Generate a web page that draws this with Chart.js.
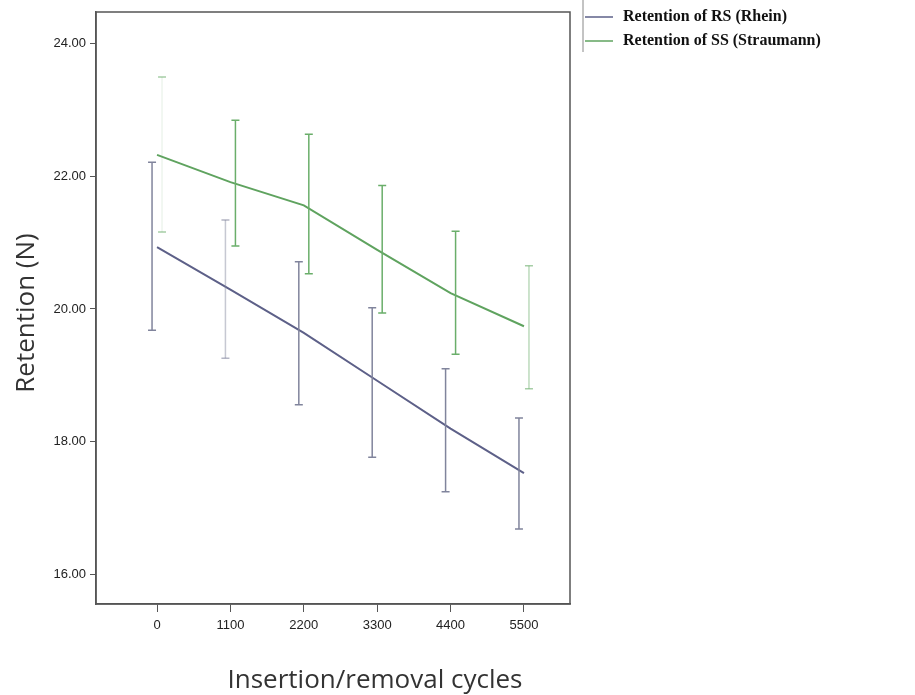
<!DOCTYPE html>
<html>
<head>
<meta charset="utf-8">
<script src="https://cdn.jsdelivr.net/npm/chart.js@4"></script>
<style>
  body { margin: 0; background: #fff; }
  #wrap { width: 915px; height: 695px; }
</style>
</head>
<body>
<div id="wrap"><canvas id="myChart"></canvas></div>
<script>
const cycles = [0, 1100, 2200, 3300, 4400, 5500];
const rsMean = [20.93, 20.29, 19.64, 18.92, 18.20, 17.53];
const rsLow  = [19.68, 19.26, 18.56, 17.77, 17.25, 16.69];
const rsHigh = [22.21, 21.34, 20.71, 20.02, 19.10, 18.36];
const ssMean = [22.32, 21.91, 21.56, 20.89, 20.24, 19.74];
const ssLow  = [21.16, 20.95, 20.53, 19.94, 19.32, 18.80];
const ssHigh = [23.49, 22.84, 22.63, 21.86, 21.17, 20.65];
const yTicks = [16, 18, 20, 22, 24];
const xTitle = 'Insertion/removal cycles';
const yTitle = 'Retention (N)';

const rsColor = "#5d6088";
const ssColor = "#5fa35f";

// error bars + frame + legend + axis titles
const extras = {
  id: 'extras',
  afterDatasetsDraw(chart) {
    const ctx = chart.ctx;
    const x = chart.scales.x, y = chart.scales.y;
    const a = chart.chartArea;
    const bars = [
      { low: rsLow, high: rsHigh, color: "#80849c", shift: -5, faint: [1] },
      { low: ssLow, high: ssHigh, color: "#6aae6a", shift: 5, faint: [0, 5] }
    ];
    ctx.save();
    bars.forEach(b => {
      cycles.forEach((c, i) => {
        const px = x.getPixelForValue(c) + b.shift;
        const y1 = y.getPixelForValue(b.high[i]);
        const y2 = y.getPixelForValue(b.low[i]);
        ctx.strokeStyle = b.color;
        ctx.globalAlpha = b.faint.includes(i) ? (i === 0 ? 0.12 : 0.45) : 1;
        ctx.lineWidth = 1.5;
        ctx.beginPath();
        ctx.moveTo(px, y1); ctx.lineTo(px, y2);
        ctx.stroke();
        ctx.globalAlpha = b.faint.includes(i) ? 0.6 : 1;
        ctx.beginPath();
        ctx.moveTo(px - 4, y1); ctx.lineTo(px + 4, y1);
        ctx.moveTo(px - 4, y2); ctx.lineTo(px + 4, y2);
        ctx.stroke();
      });
    });
    ctx.globalAlpha = 1;
    ctx.strokeStyle = "#555";
    ctx.lineWidth = 1.5;
    ctx.strokeRect(a.left, a.top, a.right - a.left, a.bottom - a.top);

    // legend
    ctx.strokeStyle = "#888";
    ctx.lineWidth = 1;
    ctx.beginPath();
    ctx.moveTo(583, 0); ctx.lineTo(583, 52);
    ctx.stroke();
    ctx.font = "bold 16px 'Liberation Serif'";
    ctx.textBaseline = "middle";
    ctx.textAlign = "left";
    chart.data.datasets.forEach((ds, i) => {
      const ly = 17 + i * 24;
      ctx.strokeStyle = ds.borderColor;
      ctx.lineWidth = 1.5;
      ctx.beginPath();
      ctx.moveTo(585, ly); ctx.lineTo(613, ly);
      ctx.stroke();
      ctx.fillStyle = "#111";
      ctx.fillText(ds.label, 623, ly);
    });

    // axis titles
    ctx.fillStyle = "#333";
    ctx.font = "26px 'Open Sans'";
    ctx.textAlign = "center";
    ctx.textBaseline = "alphabetic";
    ctx.fillText(xTitle, 375, 688);
    ctx.translate(34, 313);
    ctx.rotate(-Math.PI / 2);
    ctx.fillText(yTitle, 0, 0);
    ctx.restore();
  }
};

new Chart(document.getElementById("myChart").getContext("2d"), {
  type: 'line',
  plugins: [extras],
  data: {
    datasets: [{
      label: 'Retention of RS (Rhein)',
      data: cycles.map((c, i) => ({ x: c, y: rsMean[i] })),
      borderColor: rsColor,
      borderWidth: 2,
      pointRadius: 0,
      tension: 0
    }, {
      label: 'Retention of SS (Straumann)',
      data: cycles.map((c, i) => ({ x: c, y: ssMean[i] })),
      borderColor: ssColor,
      borderWidth: 2,
      pointRadius: 0,
      tension: 0
    }]
  },
  options: {
    responsive: true,
    maintainAspectRatio: false,
    animation: false,
    layout: { padding: { top: 12, right: 345, left: 0, bottom: 0 } },
    plugins: { legend: { display: false }, tooltip: { enabled: false } },
    scales: {
      x: {
        type: 'linear',
        min: -915,
        max: 6190,
        afterBuildTicks: s => { s.ticks = cycles.map(v => ({ value: v })); },
        afterFit: s => { s.height = 91; },
        grid: { drawOnChartArea: false, color: "#555", tickLength: 8 },
        border: { color: "#555", width: 1.5 },
        ticks: {
          color: "#222",
          font: { family: 'Liberation Sans', size: 13 },
          padding: 6,
          callback: v => String(v)
        }
      },
      y: {
        min: 15.56,
        max: 24.47,
        afterBuildTicks: s => { s.ticks = yTicks.map(v => ({ value: v })); },
        afterFit: s => { s.width = 96; },
        grid: { drawOnChartArea: false, color: "#555", tickLength: 6 },
        border: { color: "#555", width: 1.5 },
        ticks: {
          color: "#222",
          font: { family: 'Liberation Sans', size: 13 },
          padding: 4,
          callback: v => v.toFixed(2)
        }
      }
    }
  }
});
</script>
</body>
</html>
